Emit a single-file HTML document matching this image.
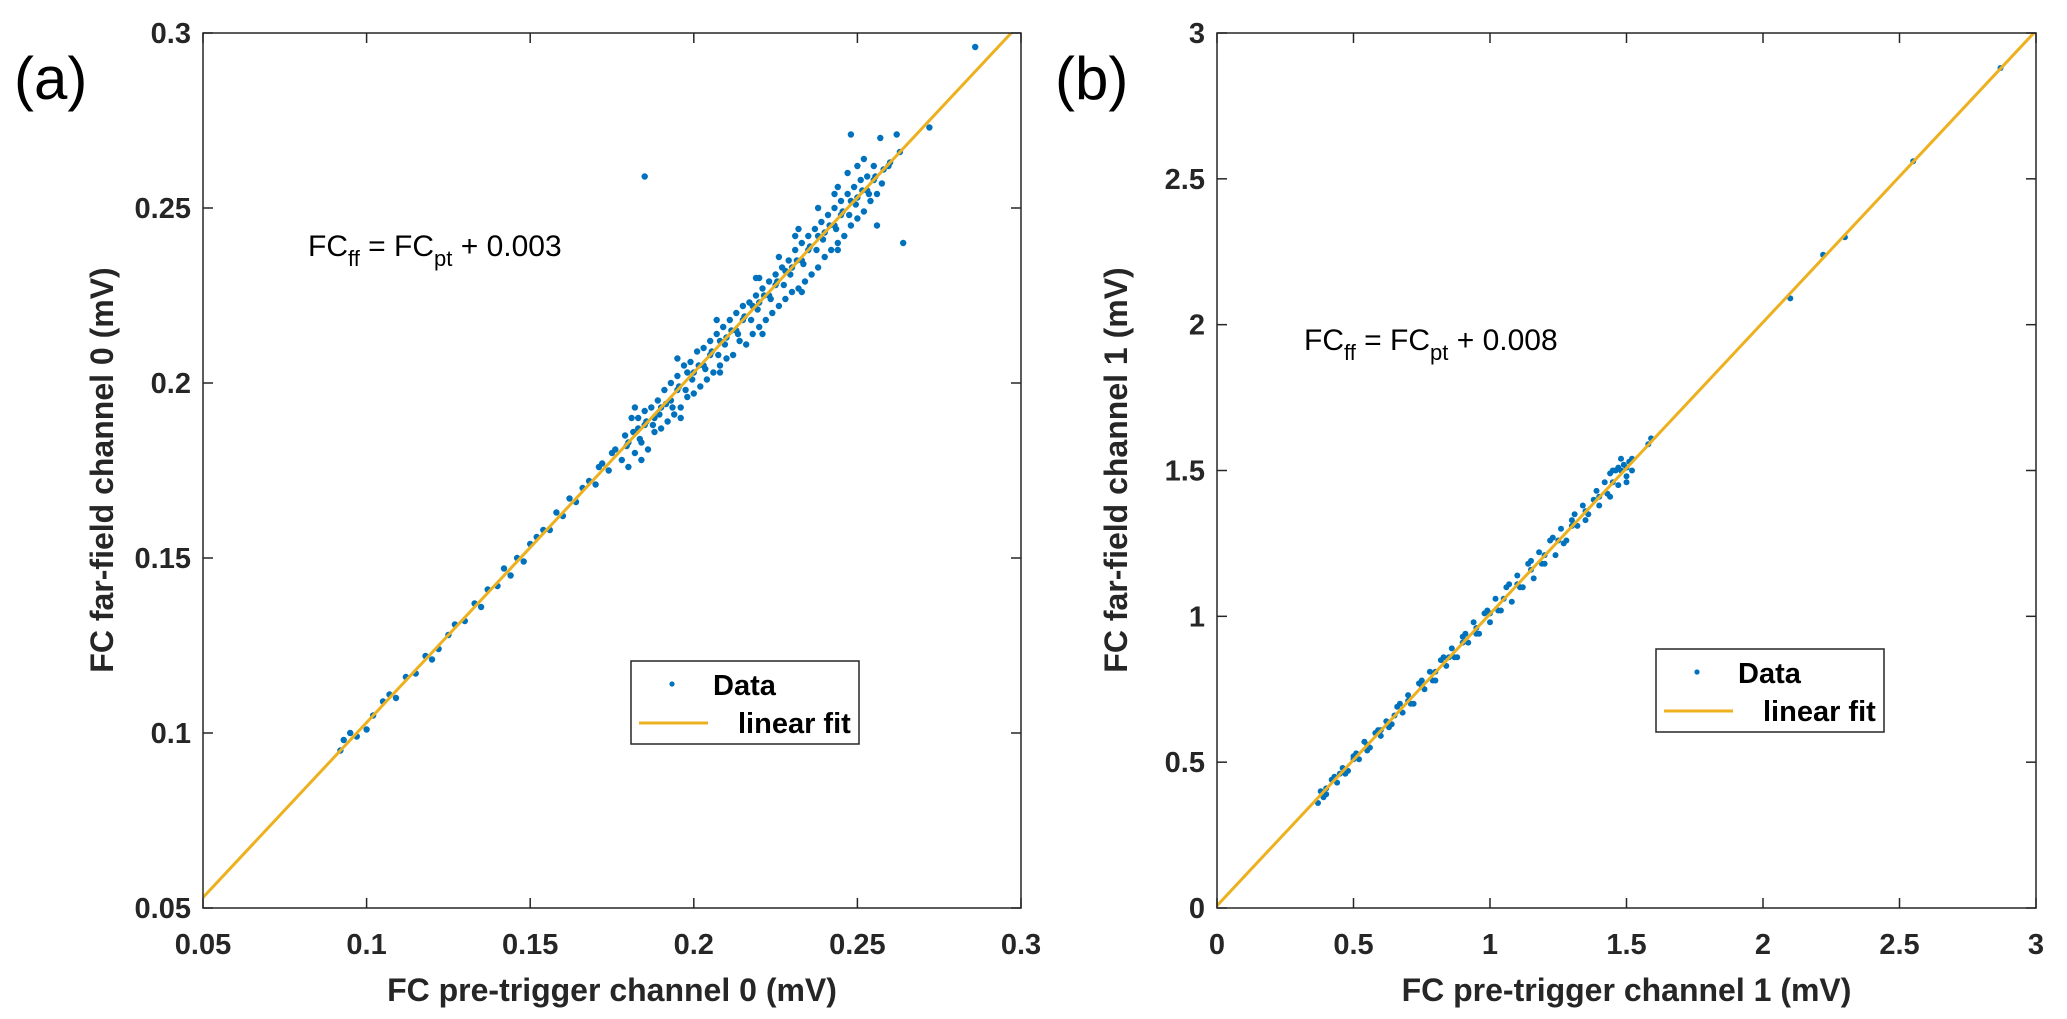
<!DOCTYPE html>
<html><head><meta charset="utf-8"><style>
html,body{margin:0;padding:0;background:#fff;}
svg{display:block;font-family:"Liberation Sans",Arial,sans-serif;}
</style></head><body>
<svg id="fig" width="2067" height="1019" viewBox="0 0 2067 1019"></svg>
<script>
// ---- Panel (a) data ----
const aX = [0.092,0.093,0.095,0.097,0.100,0.102,0.105,0.107,0.109,0.112,0.115,0.118,0.120,0.122,0.125,0.127,0.130,0.133,0.135,0.137,0.140,0.142,0.144,0.146,0.148,0.150,0.152,0.154,0.156,0.158,0.160,0.162,0.164,0.166,0.168,0.170,0.172,0.174,0.176,0.178,
0.179,0.180,0.181,0.182,0.183,0.184,0.185,0.186,0.187,0.188,0.189,0.190,0.191,0.192,0.193,0.194,0.195,0.196,0.197,0.198,0.199,0.200,0.201,0.202,0.203,0.204,0.205,0.206,0.207,0.208,0.209,0.210,0.211,0.212,0.213,0.214,0.215,0.216,0.217,0.218,0.219,0.220,0.221,0.222,0.223,0.224,0.225,0.226,0.227,0.228,0.229,0.230,0.231,0.232,0.233,0.234,0.235,0.236,0.237,0.238,0.239,0.240,0.241,0.242,0.243,0.244,0.245,0.246,0.247,0.248,0.249,0.250,0.251,0.252,0.253,0.254,0.255,0.256,0.258,0.260,
0.180,0.185,0.190,0.195,0.200,0.205,0.210,0.215,0.220,0.225,0.230,0.235,0.240,0.245,0.250,0.255,0.183,0.188,0.193,0.198,0.203,0.208,0.213,0.218,0.223,0.228,0.233,0.238,0.243,0.248,0.253,0.238,0.232,0.226,0.220,0.244,0.250,0.247,
0.1795,0.1815,0.1835,0.1855,0.1875,0.1895,0.1915,0.1935,0.1955,0.1975,0.1995,0.2015,0.2035,0.2055,0.2075,0.2095,0.2115,0.2135,0.2155,0.2175,0.2195,0.2215,0.2235,0.2255,0.2275,0.2295,0.2315,0.2335,0.2355,0.2375,0.2395,0.2415,0.2435,0.2455,0.2475,0.2495,0.2515,0.2535,0.2555,0.2575,0.2595,0.184,0.196,0.208,0.221,0.233,0.244,0.182,0.195,0.207,0.219,0.231,0.243,0.252,0.175,0.171,
0.185,0.286,0.272,0.264,0.248,0.257,0.262,0.256,0.263];
const aY = [0.095,0.098,0.100,0.099,0.101,0.105,0.109,0.111,0.110,0.116,0.117,0.122,0.121,0.124,0.128,0.131,0.132,0.137,0.136,0.141,0.142,0.147,0.145,0.150,0.149,0.154,0.156,0.158,0.158,0.163,0.162,0.167,0.166,0.170,0.172,0.171,0.177,0.175,0.181,0.178,
0.185,0.176,0.190,0.180,0.187,0.183,0.192,0.181,0.193,0.186,0.195,0.187,0.198,0.189,0.200,0.191,0.202,0.193,0.205,0.196,0.206,0.197,0.209,0.199,0.210,0.201,0.212,0.203,0.214,0.205,0.216,0.207,0.218,0.208,0.220,0.212,0.222,0.211,0.223,0.214,0.225,0.216,0.227,0.218,0.229,0.220,0.231,0.222,0.233,0.224,0.235,0.226,0.238,0.227,0.240,0.229,0.242,0.231,0.244,0.233,0.246,0.236,0.248,0.238,0.250,0.240,0.252,0.242,0.254,0.245,0.256,0.247,0.258,0.249,0.259,0.252,0.262,0.254,0.261,0.263,
0.183,0.188,0.193,0.198,0.203,0.208,0.213,0.218,0.223,0.228,0.233,0.238,0.243,0.248,0.253,0.258,0.190,0.190,0.195,0.203,0.205,0.212,0.215,0.222,0.225,0.232,0.235,0.242,0.245,0.252,0.255,0.250,0.244,0.236,0.230,0.256,0.262,0.260,
0.182,0.186,0.184,0.189,0.188,0.191,0.194,0.193,0.199,0.198,0.201,0.205,0.204,0.209,0.208,0.211,0.215,0.214,0.219,0.218,0.221,0.225,0.224,0.229,0.228,0.231,0.235,0.234,0.239,0.238,0.241,0.245,0.244,0.249,0.248,0.251,0.255,0.254,0.259,0.257,0.262,0.178,0.190,0.203,0.214,0.226,0.238,0.193,0.207,0.218,0.230,0.242,0.254,0.264,0.180,0.176,
0.259,0.296,0.273,0.240,0.271,0.270,0.271,0.245,0.266];
const aFit = [0.003, 1]; // intercept, slope
const aTicks = [0.05,0.1,0.15,0.2,0.25,0.3];
const aTickLabels = ["0.05","0.1","0.15","0.2","0.25","0.3"];
// ---- Panel (b) data ----
const bX = [0.37,0.38,0.40,0.42,0.44,0.46,0.48,0.50,0.52,0.54,0.56,0.58,0.60,0.62,0.64,0.66,0.68,0.70,0.72,0.74,0.76,0.78,0.80,0.82,0.84,0.86,0.88,0.90,0.92,0.94,0.96,0.98,1.00,1.02,1.04,1.06,1.08,1.10,1.12,1.14,1.16,1.18,1.20,1.22,1.24,1.26,1.28,1.30,1.32,1.34,1.36,1.38,1.40,1.42,1.44,1.45,1.47,1.48,1.50,1.51,1.52,1.49,1.46,
0.40,0.45,0.50,0.55,0.60,0.65,0.70,0.75,0.80,0.85,0.90,0.95,1.00,1.05,1.10,1.15,1.20,1.25,1.30,1.35,1.40,1.45,1.50,
0.39,0.43,0.47,0.51,0.55,0.59,0.63,0.67,0.71,0.75,0.79,0.83,0.87,0.91,0.95,0.99,1.03,1.07,1.11,1.15,1.19,1.23,1.27,1.31,1.35,1.39,1.43,1.47,1.50,1.44,1.48,1.52,
1.58,1.59,2.10,2.22,2.30,2.55,2.87];
const bY = [0.36,0.40,0.39,0.44,0.43,0.48,0.47,0.52,0.51,0.57,0.55,0.60,0.59,0.64,0.63,0.69,0.67,0.73,0.70,0.77,0.75,0.81,0.78,0.85,0.83,0.89,0.86,0.93,0.91,0.98,0.94,1.01,0.98,1.06,1.02,1.10,1.05,1.14,1.10,1.18,1.13,1.22,1.18,1.26,1.21,1.30,1.26,1.33,1.31,1.38,1.35,1.40,1.38,1.46,1.41,1.50,1.45,1.54,1.48,1.53,1.50,1.52,1.50,
0.41,0.46,0.51,0.56,0.61,0.66,0.71,0.76,0.81,0.86,0.91,0.96,1.01,1.06,1.11,1.16,1.21,1.26,1.31,1.36,1.41,1.46,1.51,
0.38,0.45,0.46,0.53,0.54,0.61,0.62,0.70,0.70,0.78,0.78,0.86,0.86,0.94,0.94,1.02,1.02,1.11,1.10,1.19,1.18,1.27,1.25,1.35,1.33,1.43,1.42,1.51,1.46,1.49,1.50,1.54,
1.59,1.61,2.09,2.24,2.30,2.56,2.88];
const bFit = [0.008, 1];
const bTicks = [0,0.5,1,1.5,2,2.5,3];
const bTickLabels = ["0","0.5","1","1.5","2","2.5","3"];

const NS="http://www.w3.org/2000/svg";
const svg=document.getElementById('fig');
function mk(tag,attrs,parent,txt){const e=document.createElementNS(NS,tag);for(const k in attrs)e.setAttribute(k,attrs[k]);if(txt!==undefined)e.textContent=txt;(parent||svg).appendChild(e);return e;}

function panel(o){
  const g=mk('g',{});
  
  
  const L=o.L,R=o.R,T=33,B=908;
  const sx=v=>L+(v-o.min)/(o.max-o.min)*(R-L);
  const sy=v=>B-(v-o.min)/(o.max-o.min)*(B-T);
  const cp=mk('clipPath',{id:'clip'+o.id},g);mk('rect',{x:L,y:T,width:R-L,height:B-T},cp);
  const pg=mk('g',{'clip-path':'url(#clip'+o.id+')'},g);
  
  
  for(let i=0;i<o.xs.length;i++){
    const c=mk('circle',{cx:sx(o.xs[i]).toFixed(1),cy:sy(o.ys[i]).toFixed(1),r:o.r,fill:'#0072BD'},pg);
    
    
  }
  const x0=o.min,x1=o.max;
  const fl=mk('line',{x1:sx(x0),y1:sy(o.fit[0]+o.fit[1]*x0),x2:sx(x1),y2:sy(o.fit[0]+o.fit[1]*x1),stroke:'#EDB120','stroke-width':3},pg);
  
  
  const bx=mk('rect',{x:L,y:T,width:R-L,height:B-T,fill:'none',stroke:'#262626','stroke-width':1.5},g);
  
  
  o.ticks.forEach((t,i)=>{
    const X=sx(t),Y=sy(t);
    mk('line',{x1:X,y1:B,x2:X,y2:B-10,stroke:'#262626','stroke-width':1.5},g);
    mk('line',{x1:X,y1:T,x2:X,y2:T+10,stroke:'#262626','stroke-width':1.5},g);
    mk('line',{x1:L,y1:Y,x2:L+10,y2:Y,stroke:'#262626','stroke-width':1.5},g);
    mk('line',{x1:R,y1:Y,x2:R-10,y2:Y,stroke:'#262626','stroke-width':1.5},g);
    const xt=mk('text',{x:X,y:954,'text-anchor':'middle','font-size':29,'font-weight':'bold',fill:'#262626'},g,o.labels[i]);
    
    
    const yt=mk('text',{x:L-12,y:Y+10,'text-anchor':'end','font-size':29,'font-weight':'bold',fill:'#262626'},g,o.labels[i]);
    
    
  });
  const xa=mk('text',{x:(L+R)/2,y:1001,'text-anchor':'middle','font-size':32,'font-weight':'bold',fill:'#262626'},g,o.xtitle);
  
  
  const ya=mk('text',{x:0,y:0,'text-anchor':'middle','font-size':32,'font-weight':'bold',fill:'#262626',transform:'translate('+(L-90)+',470) rotate(-90)'},g,o.ytitle);
  
  
  const pl=mk('text',{x:o.plx,y:99,'font-size':60,fill:'#000'},g,o.plabel);
  
  
  const eq=mk('text',{x:o.ex,y:o.ey,'font-size':30,fill:'#000'},g);
  
  
  mk('tspan',{},eq,'FC');mk('tspan',{dy:10,'font-size':22},eq,'ff');mk('tspan',{dy:-10},eq,' = FC');mk('tspan',{dy:10,'font-size':22},eq,'pt');mk('tspan',{dy:-10},eq,' + '+o.fit[0].toFixed(3));
  const lg=mk('g',{},g);
  
  
  const lx=o.lx,ly=o.ly;
  mk('rect',{x:lx,y:ly,width:228,height:83,fill:'#fff',stroke:'#262626','stroke-width':1.5},lg);
  mk('circle',{cx:lx+41,cy:ly+23,r:2.6,fill:'#0072BD'},lg);
  const t1=mk('text',{x:lx+82,y:ly+34,'font-size':29,'font-weight':'bold',fill:'#000'},lg,'Data');
  
  
  mk('line',{x1:lx+8,y1:ly+62,x2:lx+77,y2:ly+62,stroke:'#EDB120','stroke-width':3},lg);
  const t2=mk('text',{x:lx+107,y:ly+72,'font-size':29,'font-weight':'bold',fill:'#000'},lg,'linear fit');
  
  
}
panel({id:'a',name:'panel-a',L:203,R:1021,min:0.05,max:0.3,r:3.2,xs:aX,ys:aY,fit:aFit,ticks:aTicks,labels:aTickLabels,
  xtitle:'FC pre-trigger channel 0 (mV)',ytitle:'FC far-field channel 0 (mV)',plabel:'(a)',plx:14,ex:308,ey:256,lx:631,ly:661});
panel({id:'b',name:'panel-b',L:1217,R:2036,min:0,max:3,r:3.0,xs:bX,ys:bY,fit:bFit,ticks:bTicks,labels:bTickLabels,
  xtitle:'FC pre-trigger channel 1 (mV)',ytitle:'FC far-field channel 1 (mV)',plabel:'(b)',plx:1055,ex:1304,ey:350,lx:1656,ly:649});
</script>
</body></html>
